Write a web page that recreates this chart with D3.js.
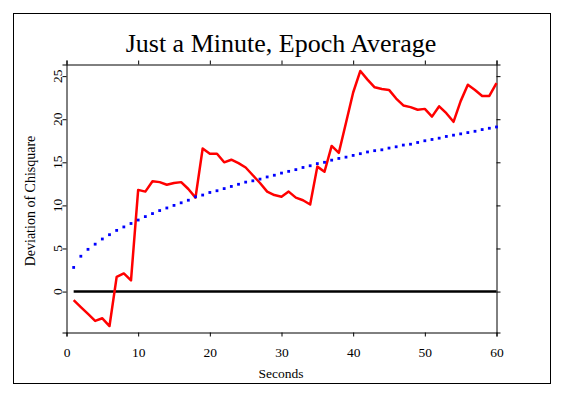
<!DOCTYPE html>
<html>
<head>
<meta charset="utf-8">
<script src="https://cdn.jsdelivr.net/npm/d3@7"></script>
<style>
	body { margin: 0; background: #fff; }
	text { font-family: "Liberation Serif", "Times New Roman", serif; fill: #000; }
</style>
</head>
<body>
<svg width="562" height="395"></svg>
<script>
// seconds 1..60
var seconds = d3.range(1, 61);

// red: deviation of chisquare, epoch average
var deviation = [-1.0, -1.8, -2.6, -3.4, -3.1, -4.0, 1.7, 2.1, 1.3, 11.8,
	11.6, 12.8, 12.7, 12.4, 12.6, 12.7, 11.9, 10.9, 16.6, 16.0,
	16.0, 15.0, 15.3, 14.9, 14.4, 13.5, 12.6, 11.6, 11.2, 11.0,
	11.6, 10.9, 10.6, 10.1, 14.5, 13.9, 16.9, 16.1, 19.6, 23.1,
	25.6, 24.6, 23.7, 23.5, 23.4, 22.4, 21.6, 21.4, 21.1, 21.2,
	20.3, 21.5, 20.7, 19.7, 22.1, 24.0, 23.4, 22.7, 22.7, 24.2];

// blue dotted: reference curve
var reference = [2.8, 4.1, 4.9, 5.5, 6.1, 6.6, 7.1, 7.5, 7.9, 8.3,
	8.7, 9.05, 9.4, 9.7, 10.0, 10.3, 10.6, 11.0, 11.2, 11.5,
	11.7, 11.95, 12.2, 12.45, 12.7, 12.85, 13.05, 13.3, 13.5, 13.75,
	13.95, 14.15, 14.4, 14.6, 14.85, 15.0, 15.25, 15.45, 15.6, 15.8,
	16.0, 16.2, 16.35, 16.45, 16.65, 16.8, 17.0, 17.1, 17.3, 17.5,
	17.65, 17.8, 18.0, 18.15, 18.3, 18.45, 18.6, 18.8, 18.95, 19.1];

var xTicks = [0, 10, 20, 30, 40, 50, 60];
var yTicks = [0, 5, 10, 15, 20, 25];

var svg = d3.select("svg"),
	width = +svg.attr("width"),
	height = +svg.attr("height");

var plotLeft = 66.5, plotRight = 496.5, plotTop = 64.5, plotBottom = 332.5;

var x = d3.scaleLinear().domain([0, 60]).range([plotLeft, plotRight]);
var y = d3.scaleLinear().domain([-4.75, 26.35]).range([plotBottom, plotTop]);

// outer frame
svg.append("rect")
	.attr("x", 13.5).attr("y", 13.5)
	.attr("width", 537).attr("height", 370)
	.attr("fill", "none").attr("stroke", "#000").attr("stroke-width", 1);

svg.append("text")
	.attr("x", 281).attr("y", 52)
	.attr("text-anchor", "middle")
	.style("font-size", "26px")
	.text("Just a Minute, Epoch Average");

// axes on all four sides, labels only bottom and left
var xAxis = svg.append("g").attr("transform", "translate(0," + plotBottom + ")")
	.call(d3.axisBottom(x).tickValues(xTicks).tickSize(4).tickPadding(11).tickFormat(d3.format("d")));
var xTop = svg.append("g").attr("transform", "translate(0," + plotTop + ")")
	.call(d3.axisTop(x).tickValues(xTicks).tickSize(4).tickFormat(""));
var yAxis = svg.append("g").attr("transform", "translate(" + plotLeft + ",0)")
	.call(d3.axisLeft(y).tickValues(yTicks).tickSize(4).tickFormat(""));
var yRight = svg.append("g").attr("transform", "translate(" + plotRight + ",0)")
	.call(d3.axisRight(y).tickValues(yTicks).tickSize(4).tickFormat(""));

svg.selectAll(".domain").attr("stroke", "#000").attr("stroke-width", 1);
svg.selectAll(".tick line").attr("stroke", "#000");
xAxis.selectAll("text").style("font-size", "13.5px").attr("fill", "#000").attr("font-family", null);

// rotated y tick labels
svg.append("g").selectAll("text")
	.data(yTicks)
	.enter().append("text")
	.attr("transform", function(d) { return "translate(61.5," + y(d) + ") rotate(-90)"; })
	.attr("text-anchor", "middle")
	.style("font-size", "13.5px")
	.text(function(d) { return d; });

svg.append("text")
	.attr("x", 281).attr("y", 378)
	.attr("text-anchor", "middle")
	.style("font-size", "13.5px")
	.text("Seconds");

svg.append("text")
	.attr("transform", "translate(35,201) rotate(-90)")
	.attr("text-anchor", "middle")
	.style("font-size", "14px")
	.text("Deviation of Chisquare");

// zero line
svg.append("line")
	.attr("x1", x(seconds[0])).attr("x2", x(seconds[seconds.length - 1]))
	.attr("y1", y(0)).attr("y2", y(0))
	.attr("stroke", "#000").attr("stroke-width", 2.5);

var line = d3.line()
	.x(function(d, i) { return x(seconds[i]); })
	.y(function(d) { return y(d); });

svg.append("path")
	.datum(deviation)
	.attr("d", line)
	.attr("fill", "none")
	.attr("stroke", "#ff0000")
	.attr("stroke-width", 2.5)
	.attr("stroke-linejoin", "round");

// blue dotted curve: one dot per second
svg.append("g").selectAll("rect")
	.data(reference)
	.enter().append("rect")
	.attr("x", function(d, i) { return x(seconds[i]) - 1.4; })
	.attr("y", function(d) { return y(d) - 1.4; })
	.attr("width", 2.8).attr("height", 2.8)
	.attr("fill", "#0000ff");
</script>
</body>
</html>
